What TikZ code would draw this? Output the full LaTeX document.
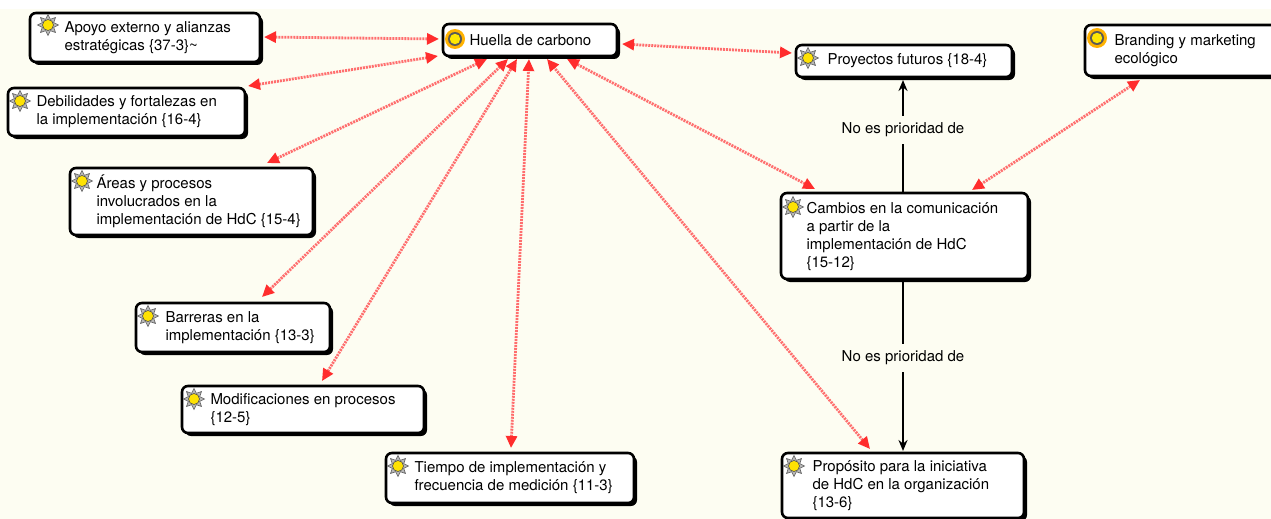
\documentclass[tikz,border=0pt]{standalone}
\usepackage{fontspec}
\setmainfont{TeX Gyre Heros}
\usetikzlibrary{arrows.meta,shapes.geometric,shadows,calc}
\definecolor{cream}{RGB}{253,253,242}
\definecolor{redline}{RGB}{255,110,110}
\definecolor{redtip}{RGB}{255,45,45}
\newcommand\bt[3]{\hspace*{#1pt}\parbox[c]{#2pt}{\raggedright #3}}
\tikzset{
  box/.style={draw=black, line width=2.6pt, fill=white, rounded corners=6pt,
    anchor=north west, inner xsep=0pt, inner ysep=2pt, outer sep=0pt,
    drop shadow={shadow xshift=3pt, shadow yshift=-3pt, opacity=1, fill=black}},
  rline/.style={draw=redline, line width=2.8pt, dash pattern=on 2pt off 1pt,
    {Triangle[length=12pt,width=11pt,color=redtip]}-{Triangle[length=12pt,width=11pt,color=redtip]}},
  bline/.style={draw=black, line width=2.6pt},
  barrow/.style={draw=black, line width=2.6pt, -{Stealth[length=11pt,width=9pt]}},
  lab/.style={inner xsep=2pt, inner ysep=7pt, font=\fontsize{15}{18}\selectfont},
  gear/.pic={
    \node[star, star points=8, star point ratio=1.7, fill=gray!55, draw=gray!70!black, line width=0.6pt, minimum size=21pt, inner sep=0pt] {};
    \fill[yellow!85!orange] (0,0) circle (5.5);
    \draw[gray!60!black, line width=0.6pt] (0,0) circle (5.5);
  },
  gold/.pic={
    \fill[orange!60!yellow] (0,0) circle (10);
    \fill[black!65] (0,0) circle (7);
    \fill[yellow!90!orange] (0,0) circle (5.2);
  }
}
\begin{document}
\begin{tikzpicture}[x=1pt, y=-1pt, font=\fontsize{15}{18}\selectfont]
\useasboundingbox (0,0) rectangle (1271,519);
\clip (0,0) rectangle (1271,519);
\fill[white] (0,0) rectangle (1271,519);
\fill[cream] (0,9) rectangle (1271,519);

% nodes
\node[box, minimum width=230, minimum height=49] (apoyo) at (30,13) {\bt{33}{194}{Apoyo externo y alianzas\\estratégicas \{37-3\}\textasciitilde}};
\node[box, minimum width=174, minimum height=32] (huella) at (443,24) {\bt{25}{146}{Huella de carbono}};
\node[box, minimum width=216, minimum height=32] (proy) at (796,45) {\bt{30}{183}{Proyectos futuros \{18-4\}}};
\node[box, minimum width=200, minimum height=51] (brand) at (1085,25) {\bt{28}{169}{Branding y marketing\\ecológico}};
\node[box, minimum width=247, minimum height=86] (cambios) at (781,193) {\bt{24}{220}{Cambios en la comunicación\\a partir de la\\implementación de HdC\\\{15-12\}}};
\node[box, minimum width=237, minimum height=48] (debil) at (8,88) {\bt{27}{207}{Debilidades y fortalezas en\\la implementación \{16-4\}}};
\node[box, minimum width=243, minimum height=67] (areas) at (70,168) {\bt{25}{215}{Áreas y procesos\\involucrados en la\\implementación de HdC \{15-4\}}};
\node[box, minimum width=194, minimum height=49] (barr) at (136,303) {\bt{28}{163}{Barreras en la\\implementación \{13-3\}}};
\node[box, minimum width=242, minimum height=47] (modif) at (182,386) {\bt{27}{212}{Modificaciones en procesos\\\{12-5\}}};
\node[box, minimum width=248, minimum height=50] (tiempo) at (386,453) {\bt{27}{218}{Tiempo de implementación y\\frecuencia de medición \{11-3\}}};
\node[box, minimum width=242, minimum height=65] (prop) at (782,453) {\bt{29}{210}{Propósito para la iniciativa\\de HdC en la organización\\\{13-6\}}};

% icons
\path ($(apoyo.north west)+(18,12)$) pic{gear};
\path ($(huella.north west)+(12,15)$) pic{gold};
\path ($(proy.north west)+(12,13)$) pic{gear};
\path ($(brand.north west)+(12,13)$) pic{gold};
\path ($(cambios.north west)+(12,14)$) pic{gear};
\path ($(debil.north west)+(12,13)$) pic{gear};
\path ($(areas.north west)+(12,13)$) pic{gear};
\path ($(barr.north west)+(12,13)$) pic{gear};
\path ($(modif.north west)+(12,13)$) pic{gear};
\path ($(tiempo.north west)+(12,13)$) pic{gear};
\path ($(prop.north west)+(12,13)$) pic{gear};

% red connectors
\draw[rline] ($(apoyo.north east)+(4,24)$) -- ($(huella.north west)+(-4,15)$);
\draw[rline] ($(debil.north east)+(3,-2)$) -- ($(huella.south west)+(-5,0)$);
\draw[rline] ($(areas.north west)+(197,-5)$) -- ($(huella.south west)+(44,3)$);
\draw[rline] ($(barr.north west)+(126,-6)$) -- ($(huella.south west)+(65,3)$);
\draw[rline] ($(modif.north west)+(140,-5)$) -- ($(huella.south west)+(74,3)$);
\draw[rline] ($(tiempo.north west)+(125,-5)$) -- ($(huella.south west)+(86,3)$);
\draw[rline] ($(prop.north west)+(88,-4)$) -- ($(huella.south west)+(104,3)$);
\draw[rline] ($(cambios.north west)+(34,-4)$) -- ($(huella.south west)+(124,3)$);
\draw[rline] ($(huella.north east)+(5,20)$) -- ($(proy.north west)+(-4,8)$);
\draw[rline] ($(brand.south west)+(55,4)$) -- ($(cambios.north west)+(191,-3)$);

% black connectors with labels
\node[lab] (l1) at (903,130) {No es prioridad de};
\node[lab] (l2) at (903,358) {No es prioridad de};
\draw[bline] ($(cambios.north west)+(122,0)$) -- (l1.south);
\draw[barrow] (l1.north) -- ($(proy.south west)+(107,3)$);
\draw[bline] ($(cambios.south west)+(122,0)$) -- (l2.north);
\draw[barrow] (l2.south) -- ($(prop.north west)+(121,-2)$);
\end{tikzpicture}
\end{document}
